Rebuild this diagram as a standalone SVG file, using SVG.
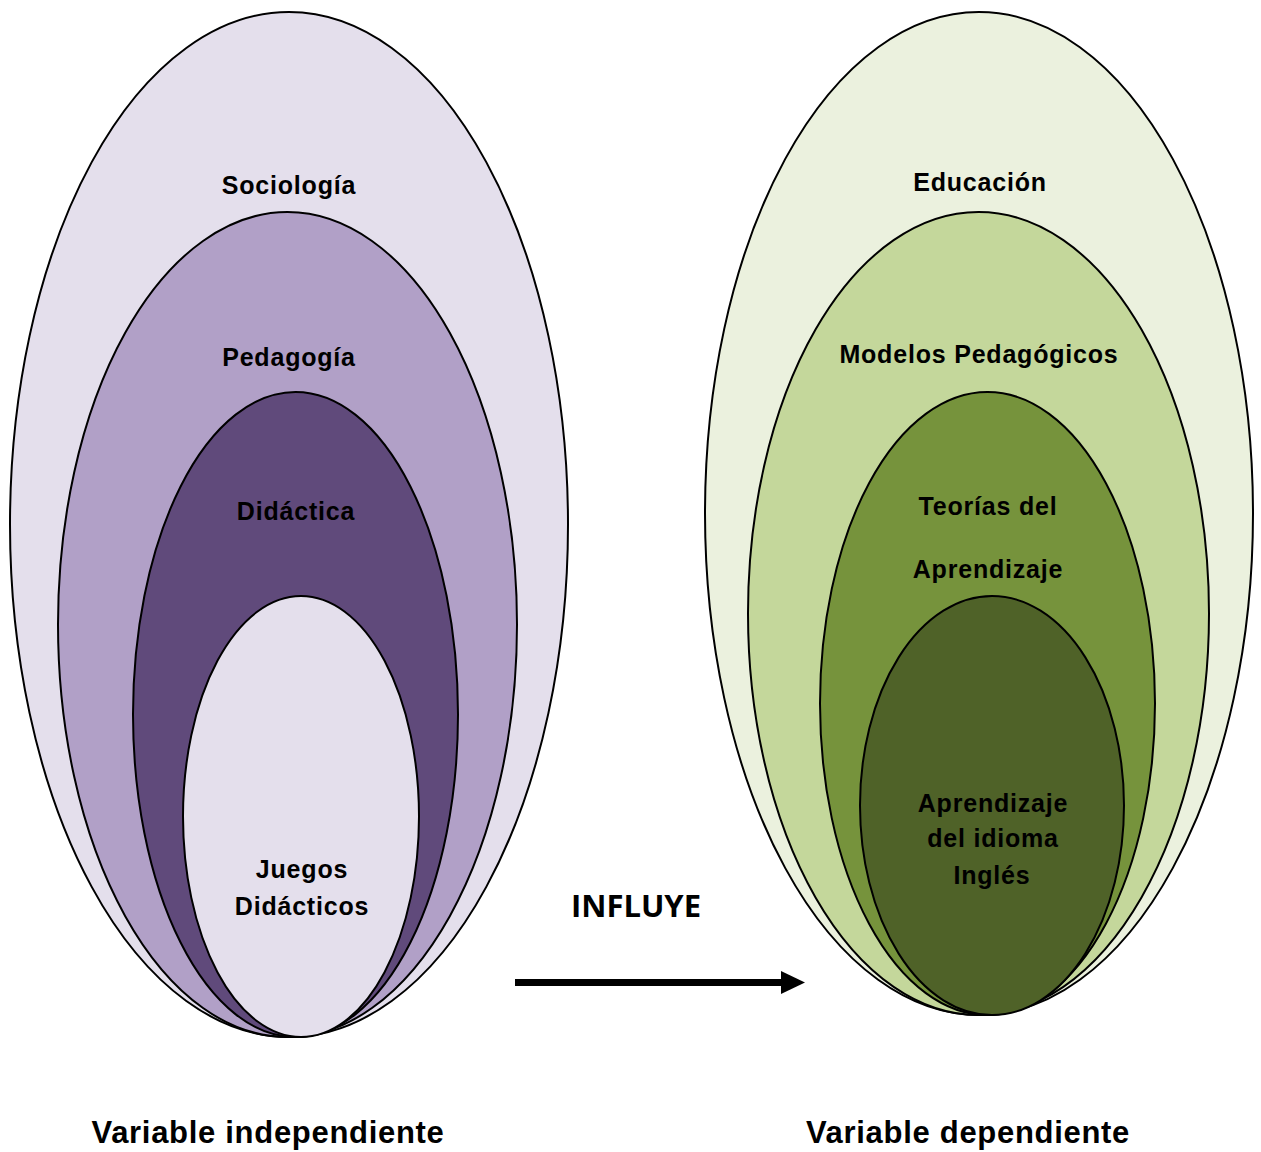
<svg xmlns="http://www.w3.org/2000/svg" width="1261" height="1152" viewBox="0 0 1261 1152">
<style>
.e{stroke:#000;stroke-width:2}
.t{font-family:"Liberation Sans",Arial,sans-serif;font-weight:bold;font-size:25px;letter-spacing:0.8px;text-anchor:middle;fill:#000}
.v{font-size:31px;letter-spacing:0.7px}
.i{font-family:"Open Sans","Liberation Sans",sans-serif;font-weight:bold;font-size:31px;text-anchor:middle;fill:#000}
</style>
<rect width="1261" height="1152" fill="#fff"/>
<g id="sociologia">
<ellipse class="e" cx="289" cy="524.5" rx="279" ry="512.5" fill="#E4DFEC"/>
<text class="t" x="289" y="194">Sociología</text>
</g>
<g id="pedagogia">
<ellipse class="e" cx="287.5" cy="624.5" rx="229.5" ry="412.5" fill="#B1A0C7"/>
<text class="t" x="289" y="366">Pedagogía</text>
</g>
<g id="didactica">
<ellipse class="e" cx="295.5" cy="714.5" rx="162.5" ry="322.5" fill="#604A7B"/>
<text class="t" x="296" y="520">Didáctica</text>
</g>
<g id="juegos">
<ellipse class="e" cx="301" cy="816.5" rx="118" ry="220.5" fill="#E4DFEC"/>
<text class="t" x="302" y="878">Juegos</text>
<text class="t" x="302" y="915">Didácticos</text>
</g>
<g id="educacion">
<ellipse class="e" cx="979" cy="513.5" rx="274" ry="501.5" fill="#EBF1DE"/>
<text class="t" x="980" y="191">Educación</text>
</g>
<g id="modelos">
<ellipse class="e" cx="978.5" cy="613.5" rx="230.5" ry="401.5" fill="#C4D79B"/>
<text class="t" x="979" y="363">Modelos Pedagógicos</text>
</g>
<g id="teorias">
<ellipse class="e" cx="987.5" cy="703.5" rx="167.5" ry="311.5" fill="#76933C"/>
<text class="t" x="988" y="515">Teorías del</text>
<text class="t" x="988" y="578">Aprendizaje</text>
</g>
<g id="aprendizaje">
<ellipse class="e" cx="992" cy="805.5" rx="132" ry="209.5" fill="#4F6228"/>
<text class="t" x="993" y="812">Aprendizaje</text>
<text class="t" x="993" y="847">del idioma</text>
<text class="t" x="992" y="884">Inglés</text>
</g>
<g id="connectors">
<line x1="515" y1="982.5" x2="782" y2="982.5" stroke="#000" stroke-width="7"/>
<polygon points="781,971 805,982.5 781,994" fill="#000"/>
</g>
<text class="i" x="636" y="917">INFLUYE</text>
<text class="t v" x="268" y="1143">Variable independiente</text>
<text class="t v" x="968" y="1143">Variable dependiente</text>
</svg>
